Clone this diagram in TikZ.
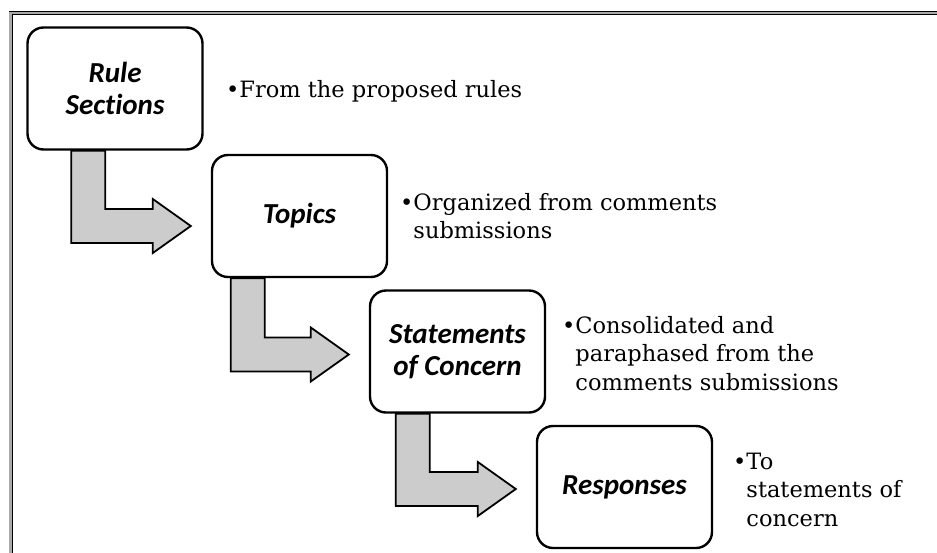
\documentclass[tikz,border=0pt]{standalone}
\usepackage{fontspec}
\setmainfont{DejaVu Serif}
\newfontfamily\boxfont[Ligatures=NoCommon]{Carlito}
\usetikzlibrary{calc, backgrounds}
\definecolor{framegray}{RGB}{170,170,170}
\definecolor{arrowgray}{RGB}{204,204,204}

\tikzset{
  stage/.style={draw, line width=2.4pt, rounded corners=16pt, fill=white, minimum width=175pt, minimum height=122pt, align=center, inner sep=0pt, font=\boxfont\bfseries\itshape\fontsize{29}{32}\selectfont},
  note/.style={anchor=base west, inner sep=0pt, font=\fontsize{22.5}{28.5}\selectfont},
  bodyarrow/.style={draw, fill=arrowgray, line width=1.8pt, line join=miter},
}

% bent block arrow: source, target, shaft offset, tip shift
\newcommand{\bentarrow}[4]{%
  \coordinate (s) at ($(#1.south west)+(#3,0)$);
  \coordinate (t) at ($(#2.west)+(-20,#4)$);
  \filldraw[bodyarrow] (s) |- ($(t)+(-38,17)$) -- ++(0,10) -- (t) -- ++(-38,-27) -- ++(0,10) -| ($(s)+(34,0)$) -- cycle;
}

\begin{document}
\begin{tikzpicture}[x=1pt, y=-1pt]
    \useasboundingbox (0,0) rectangle (937,552);

    % frame
    \begin{scope}
        \clip (0,0) rectangle (937,552);
        \fill[framegray] (9,560) |- (945,11) -- (945,14.5) -| (12.3,560) -- cycle;
        \draw[line width=0.8pt] (9,11) -- (945,11);
        \draw[line width=1.2pt] (12.3,560) |- (945,14.5);
    \end{scope}

    % stages
    \node[stage] (rules) at (115,88.5) {Rule\\Sections};
    \node[stage] (topics) at (299.5,216) {Topics};
    \node[stage] (concern) at (457.5,351.5) {Statements\\of Concern};
    \node[stage] (responses) at (624.5,487) {Responses};

    % notes
    \node[note] (n1) at (226,97) {\textbullet From the proposed rules};
    \node[note] (n2) at (400,210) {\textbullet\begin{tabular}[t]{@{}l@{}}Organized from comments\\submissions\end{tabular}};
    \node[note] (n3) at (562,333) {\textbullet\begin{tabular}[t]{@{}l@{}}Consolidated and\\paraphased from the\\comments submissions\end{tabular}};
    \node[note] (n4) at (733,469) {\textbullet\begin{tabular}[t]{@{}l@{}}To\\statements of\\concern\end{tabular}};

    % arrows
    \begin{scope}[on background layer]
        \bentarrow{rules}{topics}{45}{10}
        \bentarrow{topics}{concern}{20}{3}
        \bentarrow{concern}{responses}{27}{2}
    \end{scope}
\end{tikzpicture}
\end{document}
